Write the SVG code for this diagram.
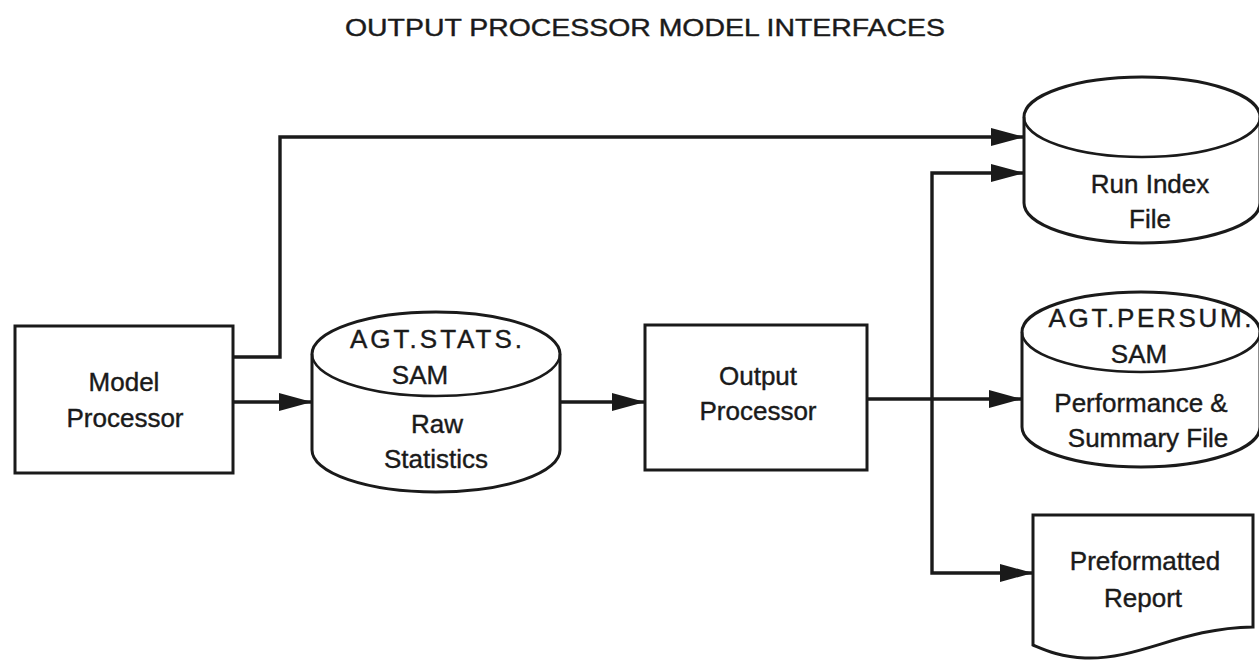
<svg xmlns="http://www.w3.org/2000/svg" width="1259" height="660" viewBox="0 0 1259 660">
<defs>
<marker id="arr" markerUnits="userSpaceOnUse" markerWidth="36" markerHeight="22" refX="33" refY="11" orient="auto">
<path d="M0,2 L33,11 L0,20 Z" fill="#1a1a1a"/>
</marker>
<style>
.shape{fill:#fff;stroke:#1a1a1a;stroke-width:3}
.top{fill:none;stroke:#1a1a1a;stroke-width:2.5}
.conn{fill:none;stroke:#1a1a1a;stroke-width:3.4}
text{font-family:"Liberation Sans","DejaVu Sans",sans-serif;font-size:26px;fill:#1a1a1a;stroke:#1a1a1a;stroke-width:0.4;text-anchor:middle}
.title{font-size:24px}
</style>
</defs>
<rect width="1259" height="660" fill="#fff"/>
<text class="title" x="645" y="36" textLength="600" lengthAdjust="spacingAndGlyphs">OUTPUT PROCESSOR MODEL INTERFACES</text>

<g id="connectors">
<path class="conn" d="M233,357 H280 V137 H1024" marker-end="url(#arr)"/>
<path class="conn" d="M233,402 H312" marker-end="url(#arr)"/>
<path class="conn" d="M560,402 H645" marker-end="url(#arr)"/>
<path class="conn" d="M867,399 H1022" marker-end="url(#arr)"/>
<path class="conn" d="M932,399 V173 H1024" marker-end="url(#arr)"/>
<path class="conn" d="M932,399 V573 H1033" marker-end="url(#arr)"/>
</g>

<g id="model-processor">
<rect class="shape" x="15" y="326" width="218" height="147"/>
<text x="124" y="391">Model</text>
<text x="125" y="427">Processor</text>
</g>

<g id="raw-statistics">
<path class="shape" d="M312,354 V450 A124,42 0 0 0 560,450 V354 A124,42 0 0 0 312,354 Z"/>
<path class="top" d="M312,354 A124,42 0 0 0 560,354"/>
<text x="436" y="348" textLength="172" lengthAdjust="spacing">AGT.STATS.</text>
<text x="420" y="384">SAM</text>
<text x="437" y="433">Raw</text>
<text x="436" y="468">Statistics</text>
</g>

<g id="output-processor">
<rect class="shape" x="645" y="325" width="222" height="145"/>
<text x="758" y="385">Output</text>
<text x="758" y="420">Processor</text>
</g>

<g id="run-index-file">
<path class="shape" d="M1024,117 V203 A118,40 0 0 0 1260,203 V117 A118,40 0 0 0 1024,117 Z"/>
<path class="top" d="M1024,117 A118,40 0 0 0 1260,117"/>
<text x="1150" y="193">Run Index</text>
<text x="1150" y="228">File</text>
</g>

<g id="performance-summary-file">
<path class="shape" d="M1022,332 V427 A119,40 0 0 0 1260,427 V332 A119,40 0 0 0 1022,332 Z"/>
<path class="top" d="M1022,332 A119,40 0 0 0 1260,332"/>
<text x="1150" y="327" textLength="203" lengthAdjust="spacing">AGT.PERSUM.</text>
<text x="1139" y="363">SAM</text>
<text x="1141" y="412">Performance &amp;</text>
<text x="1148" y="447">Summary File</text>
</g>

<g id="preformatted-report">
<path class="shape" d="M1033,515 H1253 V627 C1180,628 1140,660 1085,658 C1060,657 1045,650 1033,645 Z"/>
<text x="1145" y="570">Preformatted</text>
<text x="1143" y="607">Report</text>
</g>
</svg>
